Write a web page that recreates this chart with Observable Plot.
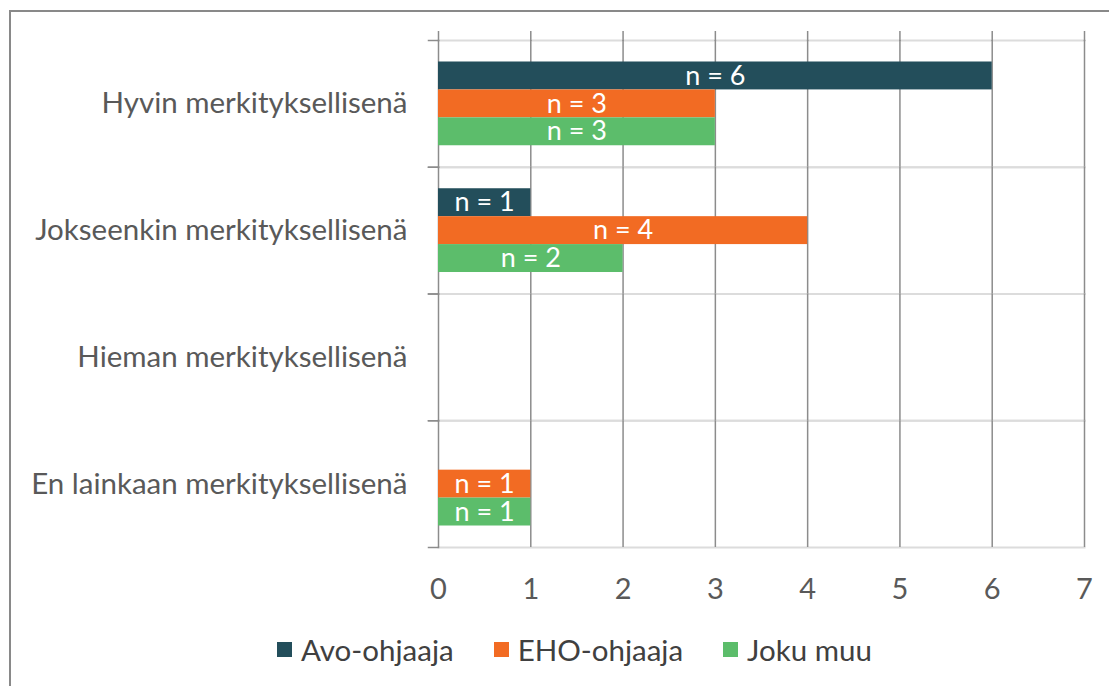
<!DOCTYPE html>
<html><head><meta charset="utf-8">
<script src="https://cdn.jsdelivr.net/npm/d3@7"></script>
<script src="https://cdn.jsdelivr.net/npm/@observablehq/plot@0.6"></script>
<style>
html,body{margin:0;padding:0;background:#fff;overflow:hidden;width:1109px;height:686px;}
#border{position:absolute;left:9px;top:10px;width:1200px;height:800px;border:2px solid #898989;box-sizing:border-box;}
#chart{position:absolute;left:0;top:0;}
#legend{position:absolute;left:277px;top:632px;}
.lg-swatches{font-family:Lato,sans-serif;font-size:29.5px;line-height:35px;color:#404040;min-height:0 !important;margin:0 !important;}
.lg-swatch{margin-right:40px !important;}
.lg-swatch > svg{margin-right:9px !important;}
</style></head><body>
<div id="border"></div>
<div id="chart"></div>
<div id="legend"></div>
<script>
const categories = ["Hyvin merkityksellisenä","Jokseenkin merkityksellisenä","Hieman merkityksellisenä","En lainkaan merkityksellisenä"];
const series = ["Avo-ohjaaja","EHO-ohjaaja","Joku muu"];
const avo = [6,1,0,0];
const eho = [3,4,0,1];
const joku = [3,2,0,1];
const colors = ["#234e5b","#f26b23","#5cbd6b"];
const xTicks = [0,1,2,3,4,5,6,7];

const data = [];
categories.forEach((c,i)=>{ [avo,eho,joku].forEach((arr,j)=>data.push({category:c, series:series[j], value:arr[i]})); });

const W=1109,H=620,mL=438,mR=25,mT=40,mB=73;
const plotW = W-mL-mR;
const gray="#8c8c8c", light="#dcdcdc";
const chart = Plot.plot({
  width:W, height:H, marginLeft:mL, marginRight:mR, marginTop:mT, marginBottom:mB,
  style:{fontFamily:"Lato, sans-serif", background:"transparent", overflow:"visible"},
  x:{domain:[0,7]},
  y:{domain:series, paddingInner:0, paddingOuter:0.77, round:false, axis:null},
  fy:{domain:categories, padding:0, round:false},
  color:{domain:series, range:colors},
  marks:[
    Plot.frame({anchor:"top", stroke:light, strokeWidth:2}),
    Plot.frame({anchor:"bottom", stroke:light, strokeWidth:2}),
    Plot.gridX(xTicks, {stroke:gray, strokeOpacity:1, strokeWidth:1.5}),
    Plot.barX(data, {fy:"category", y:"series", x:"value", fill:"series"}),
    Plot.frame({anchor:"top", stroke:gray, strokeWidth:1.5, insetLeft:-10, insetRight:plotW}),
    Plot.frame({anchor:"bottom", stroke:gray, strokeWidth:1.5, insetLeft:-10, insetRight:plotW}),
    Plot.axisX(xTicks, {anchor:"top", tickSize:10, tickFormat:()=>"", line:true, color:gray, strokeWidth:1.5, label:null}),
    Plot.axisX(xTicks, {anchor:"bottom", tickSize:0, tickPadding:31, fontSize:29, color:"#595959", label:null}),
    Plot.axisFy({anchor:"left", tickSize:0, tickPadding:31, fontSize:29.5, color:"#595959", label:null}),
    Plot.text(data.filter(d=>d.value>0), {fy:"category", y:"series", x:d=>d.value/2, text:d=>`n = ${d.value}`, fill:"white", fontSize:27})
  ]
});
document.getElementById("chart").append(chart);

const legend = Plot.legend({color:{domain:series, range:colors}, legend:"swatches", swatchSize:15, className:"lg"});
document.getElementById("legend").append(legend);
</script>
</body></html>
